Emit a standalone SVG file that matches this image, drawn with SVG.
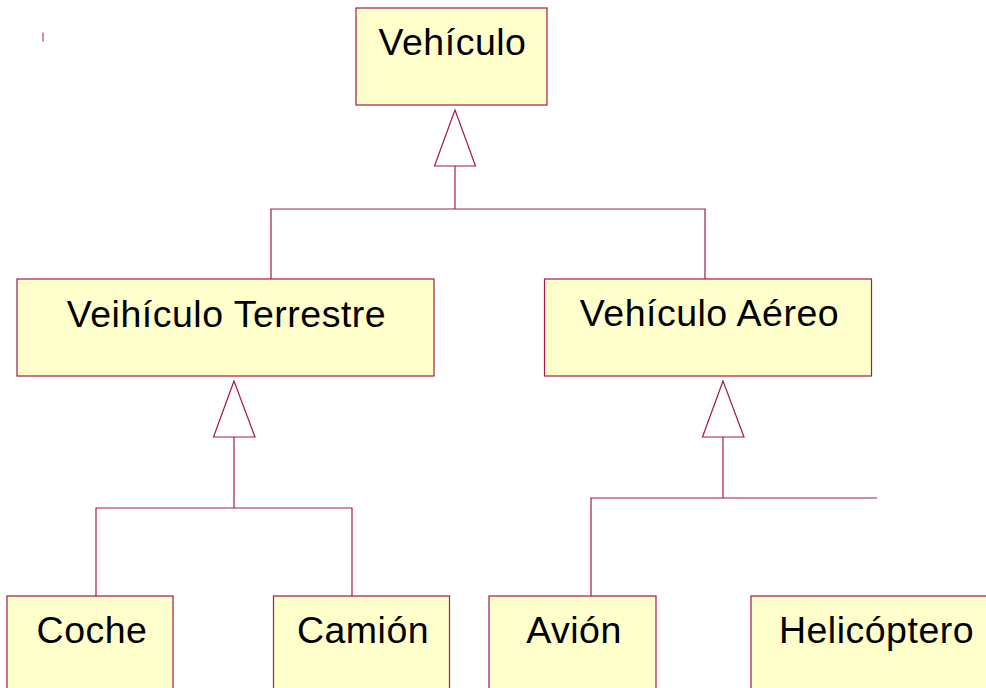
<svg xmlns="http://www.w3.org/2000/svg" width="986" height="688" viewBox="0 0 986 688">
<style>
.box{fill:#FFFFCC;stroke:#A8184A;stroke-width:1.2}
.lbl{font-family:"Liberation Sans",Arial,sans-serif;font-size:37.5px;letter-spacing:0.5px;fill:#000;text-anchor:middle}
.ln{fill:none;stroke:#A8184A;stroke-width:1.2}
.tri{fill:#FFFFFF;stroke:#A8184A;stroke-width:1.2;stroke-linejoin:miter}
</style>
<rect width="986" height="688" fill="#FFFFFF"/>
<line x1="43" y1="32.5" x2="43" y2="41.5" stroke="#A8184A" stroke-width="1"/>
<g id="connectors">
<polygon class="tri" points="455,110 434.5,166 475.5,166"/>
<polyline class="ln" points="455,166 455,209"/>
<polyline class="ln" points="271,279 271,209 705,209 705,279"/>
<polygon class="tri" points="234,381 213.5,437 255,437"/>
<polyline class="ln" points="234,437 234,508"/>
<polyline class="ln" points="96,596 96,508 352,508 352,596"/>
<polygon class="tri" points="723,381 702.5,437 744,437"/>
<polyline class="ln" points="723,437 723,498"/>
<polyline class="ln" points="591,596 591,498 877,498"/>
</g>
<g id="vehiculo">
<rect class="box" x="356" y="8" width="191" height="97"/>
<text class="lbl" x="452.5" y="55">Vehículo</text>
</g>
<g id="terrestre">
<rect class="box" x="17" y="279" width="417" height="97"/>
<text class="lbl" x="226.5" y="326.5">Veihículo Terrestre</text>
</g>
<g id="aereo">
<rect class="box" x="544.5" y="279" width="327" height="97"/>
<text class="lbl" x="709.5" y="326">Vehículo Aéreo</text>
</g>
<g id="coche">
<rect class="box" x="7" y="596" width="166" height="110"/>
<text class="lbl" x="92" y="642.5">Coche</text>
</g>
<g id="camion">
<rect class="box" x="273.5" y="596" width="176" height="110"/>
<text class="lbl" x="363" y="642.5">Camión</text>
</g>
<g id="avion">
<rect class="box" x="489" y="596" width="167" height="110"/>
<text class="lbl" x="574" y="642.5">Avión</text>
</g>
<g id="helicoptero">
<rect class="box" x="751" y="596" width="250" height="110"/>
<text class="lbl" x="876.5" y="642.5">Helicóptero</text>
</g>
</svg>
